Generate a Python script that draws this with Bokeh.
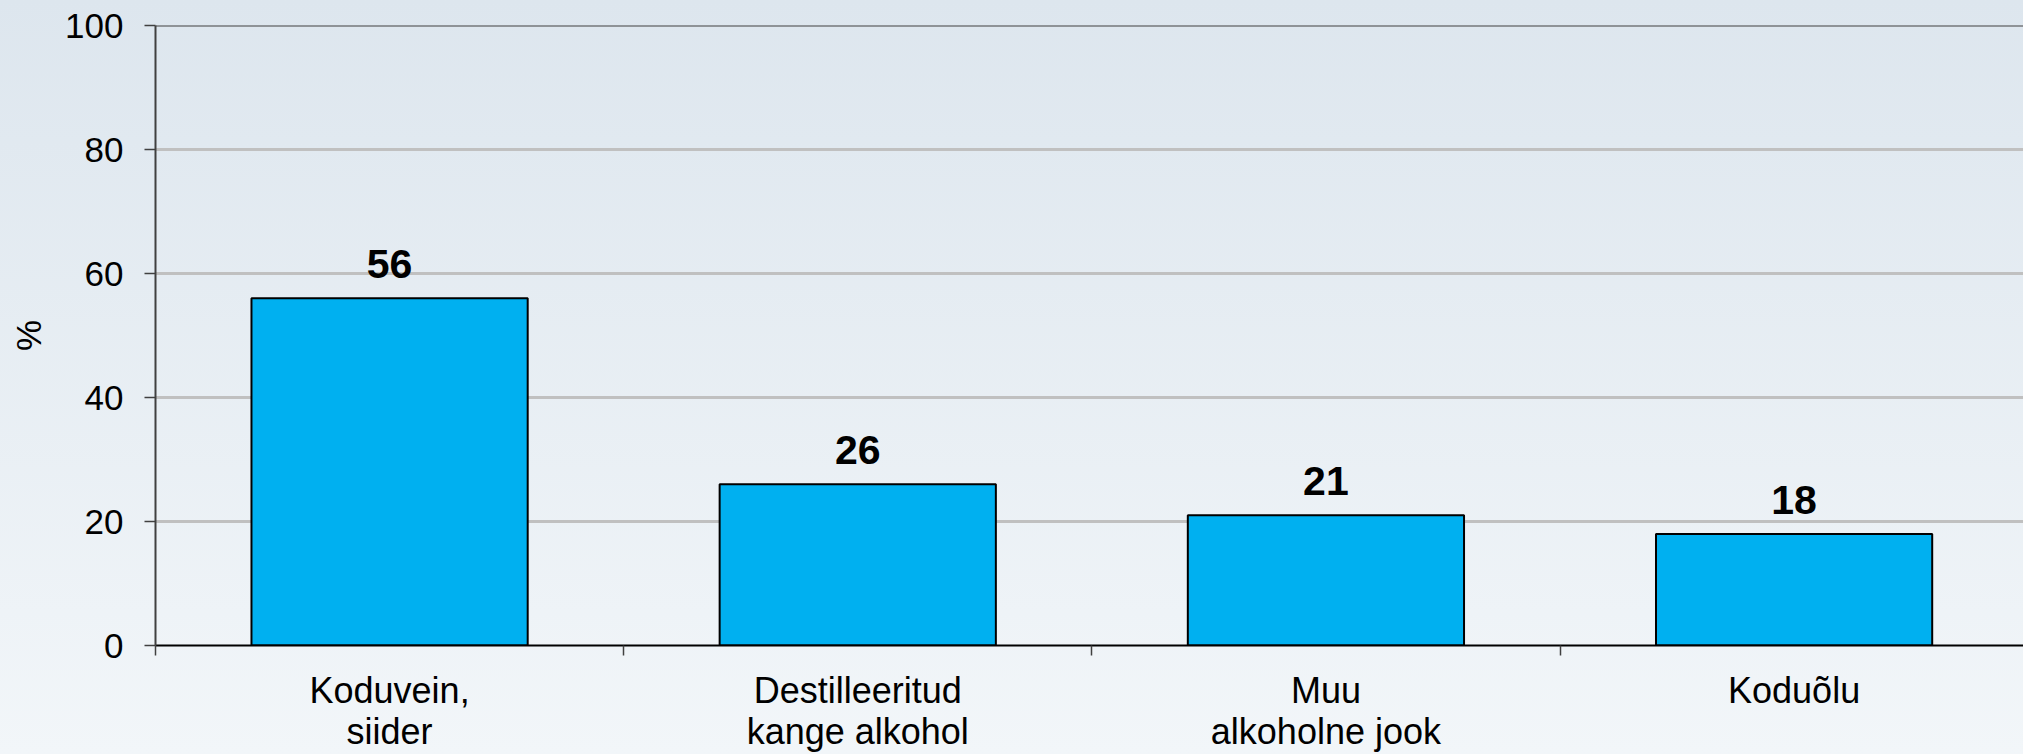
from bokeh.plotting import figure
from bokeh.models import Range1d, FixedTicker, Span, ColumnDataSource
from bokeh.embed import file_html
from bokeh.resources import INLINE
from bokeh.core.properties import value

categories = ["Koduvein,\nsiider", "Destilleeritud\nkange alkohol", "Muu\nalkoholne jook", "Koduõlu"]
values = [56, 26, 21, 18]
y_ticks = [0, 20, 40, 60, 80, 100]
y_label = "%"

FONT = "Liberation Sans"
n = len(categories)
xs = [i + 0.5 for i in range(n)]

src = ColumnDataSource(dict(x=xs, top=values, lab=[str(v) for v in values]))

p = figure(width=2023, height=754, output_backend="svg", toolbar_location=None,
           x_range=Range1d(0, 3.99), y_range=Range1d(0, 100),
           min_border_left=155, min_border_right=0, min_border_top=25, min_border_bottom=107)
p.background_fill_color = None
p.border_fill_color = None
p.outline_line_color = None
p.styles = {"background": "linear-gradient(to bottom, #dde6ee 0%, #f2f6f9 100%)"}

p.vbar(x="x", top="top", width=0.59, source=src, fill_color="#00b0f0",
       line_color="#000000", line_width=2)
p.text(x="x", y="top", text="lab", source=src, y_offset=-34,
       text_align="center", text_baseline="alphabetic",
       text_font=value(FONT), text_font_size="41px", text_font_style="bold",
       text_color="#000000")

p.add_layout(Span(location=y_ticks[-1], dimension="width", line_color="#404040", line_width=2))

# grid
p.xgrid.visible = False
p.ygrid.ticker = FixedTicker(ticks=y_ticks)
p.ygrid.grid_line_color = "#c0c0c0"
p.ygrid.grid_line_width = 3

# x axis
xa = p.xaxis[0]
xa.ticker = FixedTicker(ticks=xs, minor_ticks=list(range(n + 1)))
xa.major_label_overrides = {x: c for x, c in zip(xs, categories)}
xa.major_tick_out = 0
xa.major_tick_in = 0
xa.minor_tick_out = 10
xa.minor_tick_in = 0
xa.minor_tick_line_color = "#404040"
xa.minor_tick_line_width = 1.5
xa.axis_line_color = "#000000"
xa.axis_line_width = 2
xa.major_label_standoff = 14
xa.major_label_text_font = FONT
xa.major_label_text_font_size = "36px"
xa.major_label_text_line_height = 1.0
xa.major_label_text_color = "#000000"

# y axis
ya = p.yaxis[0]
ya.ticker = FixedTicker(ticks=y_ticks)
ya.major_tick_out = 11
ya.major_tick_in = 0
ya.minor_tick_line_color = None
ya.major_tick_line_color = "#404040"
ya.major_tick_line_width = 1.5
ya.axis_line_color = "#404040"
ya.axis_line_width = 2
ya.major_label_standoff = 21
ya.major_label_text_font = FONT
ya.major_label_text_font_size = "35px"
ya.major_label_text_color = "#000000"
ya.axis_label = y_label
ya.axis_label_text_font = FONT
ya.axis_label_text_font_size = "35px"
ya.axis_label_text_font_style = "normal"
ya.axis_label_text_color = "#000000"
ya.axis_label_standoff = 14

open("out.html", "w").write(file_html(p, INLINE))
